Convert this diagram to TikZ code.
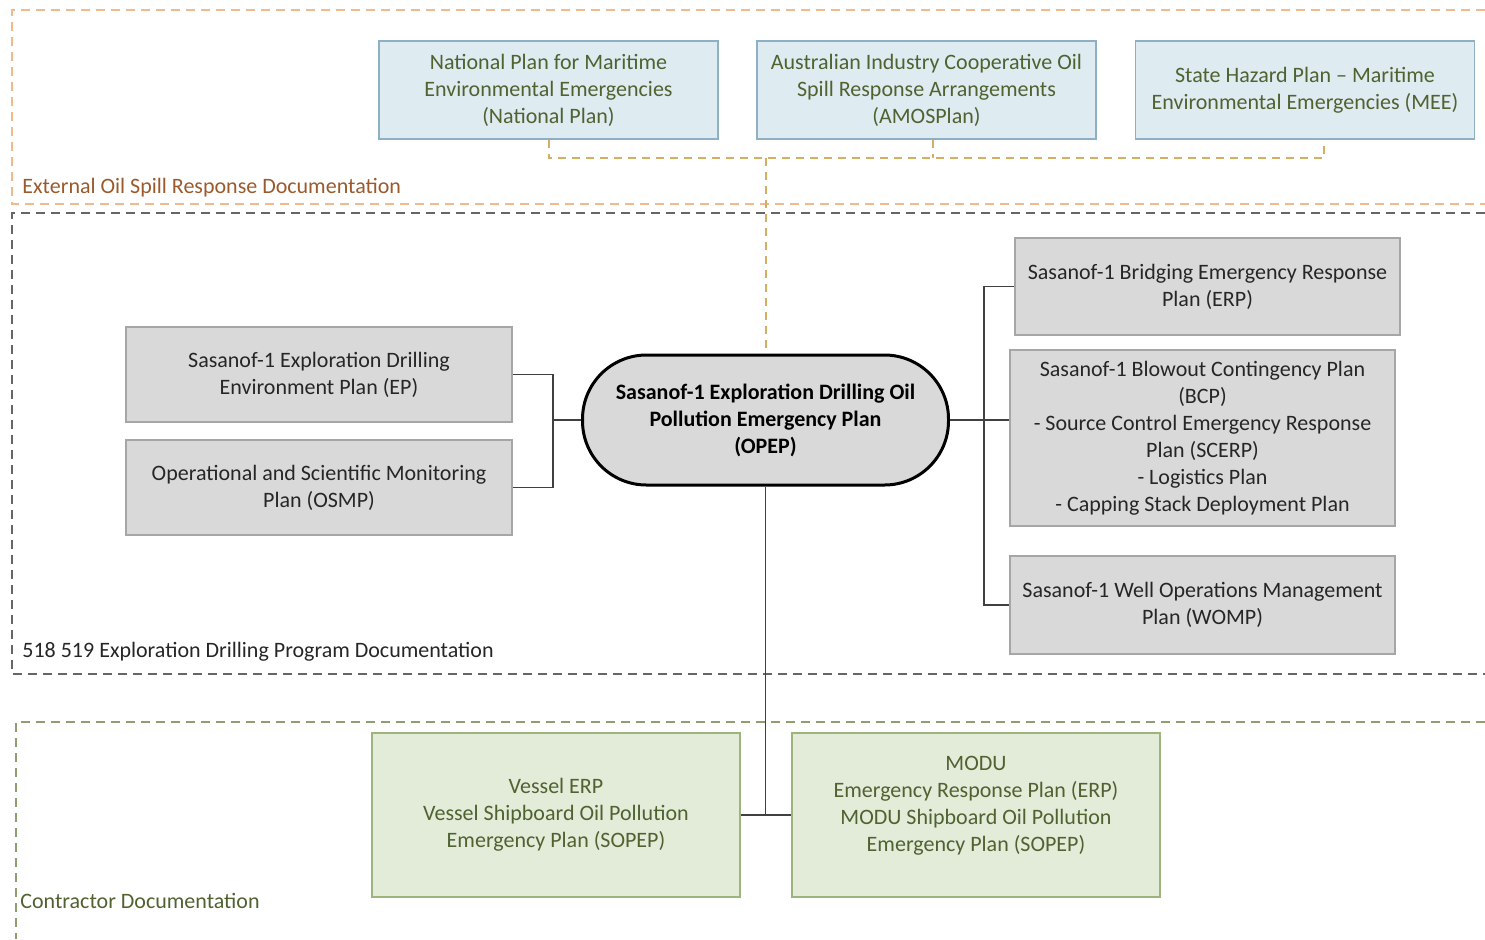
\documentclass[tikz,border=0pt]{standalone}
\usepackage{fontspec}
\setmainfont{Carlito}
\usepackage{xcolor}
\usetikzlibrary{positioning}

\definecolor{bluefill}{HTML}{DEEBF1}
\definecolor{blueedge}{HTML}{8DB0C4}
\definecolor{olivetext}{HTML}{4F6230}
\definecolor{greyfill}{HTML}{D9D9D9}
\definecolor{greyedge}{HTML}{A6A6A6}
\definecolor{greenfill}{HTML}{E3EBD9}
\definecolor{greenedge}{HTML}{9DB47C}
\definecolor{orangeframe}{HTML}{F2B88E}
\definecolor{tanline}{HTML}{D4AE62}
\definecolor{brownlabel}{HTML}{9A5A2C}
\definecolor{greenframe}{HTML}{8E9E70}

\begin{document}
\begin{tikzpicture}[x=0.5pt,y=-0.5pt,font=\fontsize{11}{13.5}\selectfont,
    extplan/.style={draw=blueedge, line width=0.8pt, fill=bluefill, text=olivetext,
      align=center, minimum width=169.5pt, minimum height=49pt, inner sep=1pt},
    progplan/.style={draw=greyedge, line width=0.8pt, fill=greyfill, text=black!85,
      align=center, inner sep=1pt},
    contrplan/.style={draw=greenedge, line width=0.8pt, fill=greenfill, text=olivetext,
      align=center, minimum width=184pt, minimum height=82pt, inner sep=1pt},
    link/.style={draw=black!75, line width=0.75pt},
    extlink/.style={draw=tanline, line width=1pt, dash pattern=on 4pt off 3pt},
    frame/.style={dash pattern=on 4.5pt off 3pt},
    framelabel/.style={anchor=base west, inner sep=0pt}]
  \useasboundingbox (0,0) rectangle (1485,939);

  % documentation frames
  \draw[frame, orangeframe, line width=0.8pt] (1485,10) -- (12,10) -- (12,204) -- (1485,204);
  \draw[frame, black!60, line width=1pt] (1485,213) -- (12,213) -- (12,674) -- (1485,674);
  \draw[frame, greenframe, line width=0.8pt] (1485,722) -- (16,722) -- (16,939);
  \node[framelabel, text=brownlabel] (extlabel) at (22,193) {External Oil Spill Response Documentation};
  \node[framelabel, text=black!85] (proglabel) at (22,657) {518 519 Exploration Drilling Program Documentation};
  \node[framelabel, text=olivetext] (contrlabel) at (20,908) {Contractor Documentation};

  % external plans
  \node[extplan] (natplan) at (548.5,90) {National Plan for Maritime\\Environmental Emergencies\\(National Plan)};
  \node[extplan] (amosplan) at (926.5,90) {Australian Industry Cooperative Oil\\Spill Response Arrangements\\(AMOSPlan)};
  \node[extplan] (mee) at (1305,90) {State Hazard Plan -- Maritime\\Environmental Emergencies (MEE)};

  % central plan
  \node[draw=black, line width=1.5pt, fill=greyfill, rounded corners=32pt, align=center,
    minimum width=183pt, minimum height=65pt, font=\fontsize{11}{13.5}\selectfont\bfseries]
    (opep) at (765.5,420) {Sasanof-1 Exploration Drilling Oil\\Pollution Emergency Plan\\(OPEP)};

  % program plans
  \node[progplan, minimum width=193pt, minimum height=47.5pt] (ep) at (319,374.5)
    {Sasanof-1 Exploration Drilling\\Environment Plan (EP)};
  \node[progplan, minimum width=193pt, minimum height=47.5pt] (osmp) at (319,487.5)
    {Operational and Scientific Monitoring\\Plan (OSMP)};
  \node[progplan, minimum width=192.5pt, minimum height=48.5pt] (erp) at (1207.5,286.5)
    {Sasanof-1 Bridging Emergency Response\\Plan (ERP)};
  \node[progplan, minimum width=192.5pt, minimum height=88pt] (bcp) at (1202.5,438)
    {Sasanof-1 Blowout Contingency Plan\\(BCP)\\- Source Control Emergency Response\\Plan (SCERP)\\- Logistics Plan\\- Capping Stack Deployment Plan};
  \node[progplan, minimum width=192.5pt, minimum height=49pt] (womp) at (1202.5,605)
    {Sasanof-1 Well Operations Management\\Plan (WOMP)};

  % contractor plans
  \node[contrplan] (vessel) at (556,815) {Vessel ERP\\Vessel Shipboard Oil Pollution\\Emergency Plan (SOPEP)};
  \node[contrplan] (modu) at (976,815) {MODU\\Emergency Response Plan (ERP)\\MODU Shipboard Oil Pollution\\Emergency Plan (SOPEP)\\[-6.5pt]\strut};

  % bus points
  \coordinate (extbus) at (765.5,158);
  \coordinate (leftbus) at (553,420);
  \coordinate (rightbus) at (984,420);
  \coordinate (lowbus) at (765.5,815);

  % external links
  \path[extlink] (natplan.south) -- (natplan.south |- extbus) -| ([xshift=9.5pt]mee.south)
        ([xshift=3.25pt]amosplan.south) -- ([xshift=3.25pt]amosplan.south |- extbus)
        (extbus) -- (opep.north);

  % program links
  \path[link] (ep.east) -| (leftbus) |- (osmp.east)
        (leftbus) -- (opep.west)
        (opep.east) -- (rightbus) -- (bcp.west |- rightbus)
        (erp.west) -| (rightbus) |- (womp.west)
        (opep.south) -- (lowbus)
        (vessel.east) -- (modu.west);
\end{tikzpicture}
\end{document}
